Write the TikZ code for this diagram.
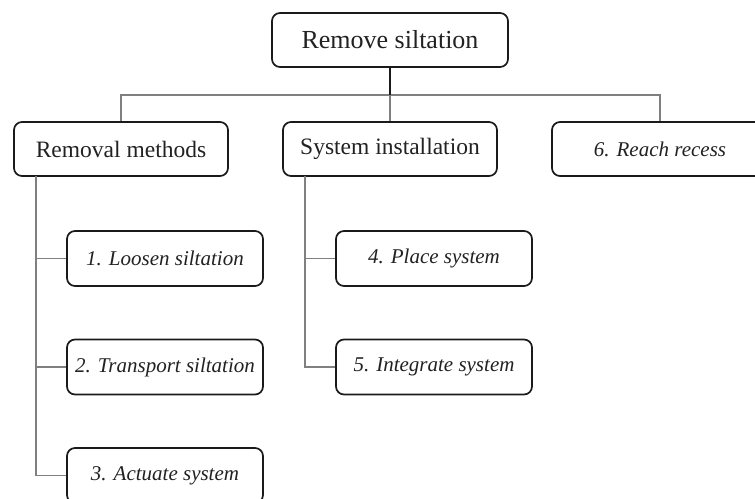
\documentclass[tikz,border=0pt]{standalone}
\usepackage{fontspec}
\setmainfont{Liberation Serif}
\definecolor{boxline}{HTML}{1A1A1A}
\definecolor{conn}{HTML}{808080}
\definecolor{txt}{HTML}{222222}
\begin{document}
\begin{tikzpicture}[x=1pt,y=-1pt,
  box/.style={draw=boxline,line width=1.7pt,rounded corners=8pt,fill=white,text=txt,inner sep=0pt,anchor=center},
  toptxt/.style={font=\fontsize{26}{30}\selectfont},
  midtxt/.style={font=\fontsize{23.5}{28}\selectfont},
  subtxt/.style={font=\fontsize{21}{25}\selectfont\itshape},
  conn/.style={draw=conn,line width=1.3pt},
  stem/.style={draw=boxline,line width=1.7pt}]
\useasboundingbox (0,0) rectangle (755,498);
\clip (0,0) rectangle (755,498);
\coordinate (hl) at (121,95);
\coordinate (hm) at (390,95);
\coordinate (hr) at (660,95);
\node[box,toptxt,minimum width=236pt,minimum height=54pt] (top) at (390,40) {Remove siltation};
\node[box,midtxt,minimum width=214pt,minimum height=54pt] (rm) at (121,149) {Removal methods};
\node[box,midtxt,minimum width=214pt,minimum height=54pt] (si) at (390,149) {System installation};
\node[box,subtxt,minimum width=216pt,minimum height=54pt] (rr) at (660,149) {6. Reach recess};
\node[box,subtxt,minimum width=196pt,minimum height=55pt] (c1) at (165,258.5) {1. Loosen siltation};
\node[box,subtxt,minimum width=196pt,minimum height=55pt] (c2) at (165,367) {2. Transport siltation};
\node[box,subtxt,minimum width=196pt,minimum height=55pt] (c3) at (165,475.5) {3. Actuate system};
\node[box,subtxt,minimum width=196pt,minimum height=55pt] (c4) at (434,258.5) {4. Place system};
\node[box,subtxt,minimum width=196pt,minimum height=55pt] (c5) at (434,367) {5. Integrate system};
\draw[conn] (rm.north) -- (rm.north |- hl) -- (hr) -- (rr.north);
\draw[conn] (hm) -- (si.north);
\draw[stem] (top.south) -- (hm);
\coordinate (lv) at (36,176);
\coordinate (mv) at (305,176);
\draw[conn] (lv) -- (lv |- c3.west) -- (c3.west);
\draw[conn] (lv |- c1.west) -- (c1.west);
\draw[conn] (lv |- c2.west) -- (c2.west);
\draw[conn] (mv) -- (mv |- c5.west) -- (c5.west);
\draw[conn] (mv |- c4.west) -- (c4.west);
\end{tikzpicture}
\end{document}
